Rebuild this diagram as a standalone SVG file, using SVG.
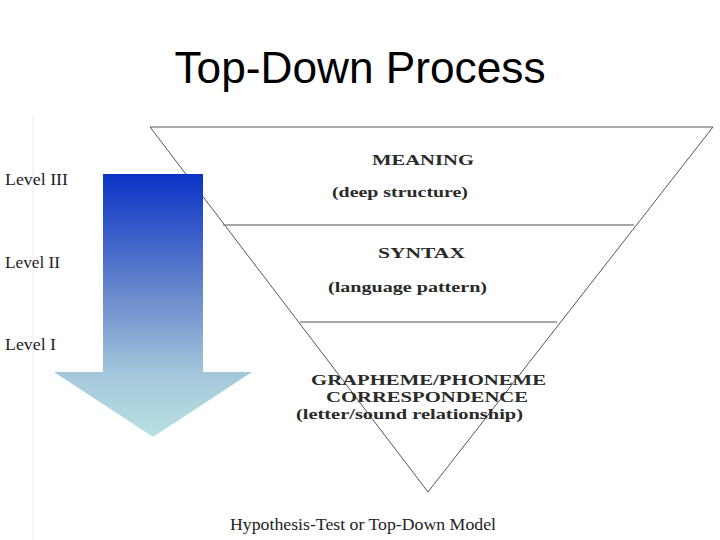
<svg xmlns="http://www.w3.org/2000/svg" width="720" height="540" viewBox="0 0 720 540">
<style>
.title{font-family:"Liberation Sans",Arial,sans-serif;font-size:44px;fill:#000}
.lvl{font-family:"Liberation Serif","Times New Roman",serif;font-size:17px;fill:#222}
.cap{font-family:"Liberation Serif","Times New Roman",serif;font-size:14px;font-weight:bold;fill:#2a2a2a}
.sub{font-family:"Liberation Serif","Times New Roman",serif;font-size:14px;font-weight:bold;fill:#2a2a2a}
.foot{font-family:"Liberation Serif","Times New Roman",serif;font-size:17px;fill:#222}
.edge{stroke:#555;stroke-width:1;fill:none}
.div{stroke:#8a8a8a;stroke-width:1.6;fill:none}
</style>
<defs>
<linearGradient id="grad" x1="0" y1="174" x2="0" y2="437" gradientUnits="userSpaceOnUse">
<stop offset="0" stop-color="#0a32c6"/>
<stop offset="0.45" stop-color="#6888cc"/>
<stop offset="0.78" stop-color="#a6cadc"/>
<stop offset="1" stop-color="#b8e0e2"/>
</linearGradient>
</defs>
<rect width="720" height="540" fill="#fff"/>
<line x1="33" y1="116" x2="33" y2="540" stroke="#ececec" stroke-width="1"/>
<g id="title"><text class="title" x="360" y="83" text-anchor="middle" textLength="371" lengthAdjust="spacingAndGlyphs">Top-Down Process</text></g>
<g id="levels">
<text class="lvl" x="5" y="185" textLength="63" lengthAdjust="spacingAndGlyphs">Level III</text>
<text class="lvl" x="5" y="268" textLength="55" lengthAdjust="spacingAndGlyphs">Level II</text>
<text class="lvl" x="5" y="350" textLength="51" lengthAdjust="spacingAndGlyphs">Level I</text>
</g>
<g id="triangle">
<polygon class="edge" points="150,127 713,127 428,492"/>
</g>
<g id="connectors">
<line class="div" x1="223" y1="225" x2="634" y2="225"/>
<line class="div" x1="300" y1="322" x2="557" y2="322"/>
</g>
<g id="meaning">
<text class="cap" x="372" y="165" textLength="102" lengthAdjust="spacingAndGlyphs">MEANING</text>
<text class="sub" x="332" y="197" textLength="136" lengthAdjust="spacingAndGlyphs">(deep structure)</text>
</g>
<g id="syntax">
<text class="cap" x="378" y="258" textLength="87" lengthAdjust="spacingAndGlyphs">SYNTAX</text>
<text class="sub" x="328" y="292" textLength="159" lengthAdjust="spacingAndGlyphs">(language pattern)</text>
</g>
<g id="grapheme">
<text class="cap" x="311" y="385" textLength="235" lengthAdjust="spacingAndGlyphs">GRAPHEME/PHONEME</text>
<text class="cap" x="326" y="402" textLength="202" lengthAdjust="spacingAndGlyphs">CORRESPONDENCE</text>
<text class="sub" x="296" y="419" textLength="227" lengthAdjust="spacingAndGlyphs">(letter/sound relationship)</text>
</g>
<g id="arrow">
<polygon points="103,174 203,174 203,372 252,372 153,437 54,372 103,372" fill="url(#grad)"/>
</g>
<g id="caption">
<text class="foot" x="230" y="530" textLength="266" lengthAdjust="spacingAndGlyphs">Hypothesis-Test or Top-Down Model</text>
</g>
</svg>
